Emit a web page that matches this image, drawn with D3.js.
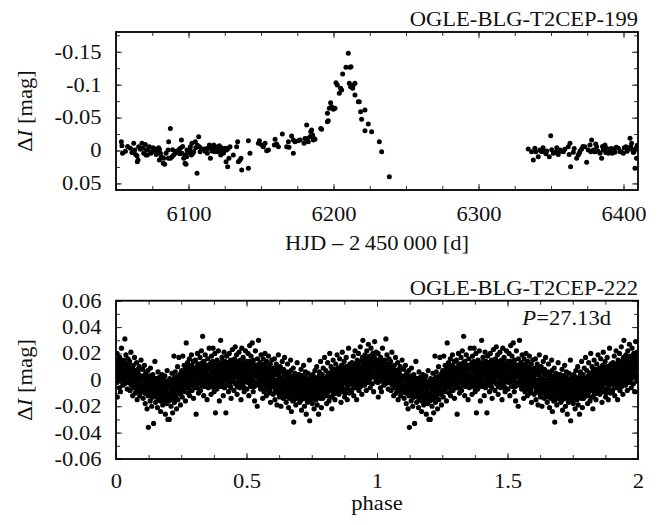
<!DOCTYPE html>
<html>
<head>
<meta charset="utf-8">
<script src="https://cdn.jsdelivr.net/npm/d3@7/dist/d3.min.js"></script>
<style>
  body { margin: 0; background: #fff; }
  text { font-family: "Liberation Serif", "Times New Roman", serif; fill: #111; }
</style>
</head>
<body>
<div id="graph"></div>
<script>
// OGLE-BLG-T2CEP-199 light curve: [HJD - 2450000, dI mag]
var lc199 = [
  [6053.7,-0.0134],[6054.1,-0.0073],[6054.5,0.0043],[6056.5,0.001],[6058,-0.006],[6059.9,-0.0033],
  [6061,0.003],[6062.2,-0.0109],[6062.9,-0.0007],[6063.5,0.006],[6064.5,0.0079],[6064.7,0.017],
  [6065.2,0.0145],[6065.6,-0.0058],[6066.8,-0.002],[6067.9,-0.0109],[6068.4,-0.0033],[6069.1,0.0043],
  [6070.2,-0.0093],[6070.7,0.0069],[6071,-0.001],[6071.6,0.0068],[6072.1,-0.0007],[6073,-0.0058],
  [6074,0.004],[6074.8,0.0018],[6075.5,-0.004],[6076,-0.0007],[6077.1,-0.0022],[6077.8,0.006],
  [6078.3,0.0018],[6079.4,-0.0043],[6079.9,0.0144],[6080,-0.002],[6080.6,0.0043],[6081.3,0.0094],
  [6082.6,0.0195],[6082.9,0.0119],[6083.6,0.021],[6084.5,0.004],[6085.9,-0.0007],[6086.1,0.0119],
  [6086.3,-0.0134],[6087.5,-0.0336],[6087.5,0.0119],[6088.6,0.0094],[6089,-0.001],[6089.8,0.0069],
  [6090.9,0.0043],[6091.5,0.001],[6092.1,0.0018],[6093.2,-0.0007],[6094,0.005],[6094.4,-0.0033],
  [6095.1,-0.0159],[6095.5,0.0043],[6096,-0.006],[6096.7,0.0119],[6097.6,0.0195],[6097.8,0.0069],
  [6098.3,0.021],[6098.7,0.0094],[6099,-0.0007],[6099.5,0.003],[6100.1,0.0018],[6101,-0.001],
  [6101.3,-0.0058],[6102,0.0069],[6102.4,-0.0109],[6103,0.004],[6103.6,0.0018],[6104.7,-0.0134],
  [6105,-0.004],[6105.9,0.0347],[6106.2,-0.008],[6107,-0.021],[6107.5,-0.0058],[6108,0.002],
  [6108.9,-0.0022],[6110.5,-0.0022],[6111.5,0.001],[6112.5,-0.003],[6113,0.004],[6113.9,-0.0033],
  [6114.4,-0.0083],[6115.1,0.0119],[6116.2,0.0008],[6116.8,-0.004],[6117.4,-0.0083],[6118,0.002],
  [6118.5,-0.0033],[6119,-0.005],[6119.7,0.0018],[6120.3,-0.0058],[6120.8,0.001],[6121.3,-0.0073],
  [6122.2,0.0069],[6122.8,-0.004],[6123.1,-0.0007],[6124,0.004],[6124.3,0.0018],[6125.4,-0.0033],
  [6125.9,0.017],[6126.3,-0.0007],[6127,0.0246],[6127.5,-0.0033],[6127.9,0.0119],[6128.6,-0.0058],
  [6130.9,0.0068],[6133.2,-0.0058],[6133.9,-0.0134],[6134.4,0.017],[6135.5,0.0144],[6136.2,0.0119],
  [6136.7,0.0296],[6141.3,0.0271],[6141.3,-0.0149],[6142.4,0.0043],[6148.2,-0.0109],[6148.9,-0.0149],
  [6150.5,-0.0083],[6151.6,-0.0058],[6152.8,-0.0109],[6153.9,0.0003],[6155.1,-0.0007],[6159.2,-0.0083],
  [6159.7,-0.017],[6160.8,-0.0099],[6162,-0.0058],[6164.7,-0.0251],[6167.7,-0.0058],[6168.9,-0.0134],
  [6169.3,-0.0048],[6171.1,-0.022],[6172.3,0.0043],[6172.3,-0.0159],[6173.4,-0.0134],[6175.7,-0.0149],
  [6176.9,-0.0159],[6179.7,-0.0109],[6180.3,-0.0184],[6181.5,-0.0387],[6182,-0.0184],[6182.6,-0.0134],
  [6183.8,-0.021],[6184.3,-0.0286],[6184.9,-0.0311],[6185.6,-0.0235],[6186.1,-0.0159],[6186.6,-0.0184],
  [6187.2,-0.0169],[6191.2,-0.0336],[6191.8,-0.0321],[6195.8,-0.0438],[6196.4,-0.0453],[6195.8,-0.0564],
  [6197.1,-0.064],[6198,-0.0726],[6198.7,-0.0665],[6199.9,-0.0625],[6201,-0.064],[6201.7,-0.103],
  [6202.6,-0.0995],[6204,-0.0868],[6204.9,-0.0944],[6205.6,-0.0919],[6206.3,-0.1162],[6208.6,-0.1263],
  [6210.2,-0.1476],[6211.4,-0.1263],[6212.1,-0.1273],[6210.9,-0.102],[6211.8,-0.0969],[6213.2,-0.0944],
  [6213.7,-0.0995],[6214.8,-0.102],[6214.8,-0.0843],[6217.1,-0.0741],[6217.8,-0.0741],[6218.7,-0.0589],
  [6219.4,-0.0473],[6221.7,-0.0615],[6221.7,-0.0301],[6224,-0.0402],[6226.3,-0.0286],[6231.6,-0.0134],
  [6233.2,0.0018],[6238.5,0.0398],
  [6334.3,-0.0022],[6336.6,0.0018],[6337.8,0.0145],[6338.9,-0.0033],[6339.5,0.002],[6341.2,0.0094],
  [6342.4,-0.0007],[6343.5,0.0018],[6344.5,-0.004],[6345.8,0.0018],[6346.5,0.005],[6347,0.0008],
  [6348.8,0.0094],[6349.8,-0.0225],[6350.5,-0.001],[6351.6,0.0043],[6352.5,0.003],[6353.4,0.0028],
  [6354,-0.004],[6355,0.0059],[6356.2,-0.0007],[6357,0.001],[6358.5,0.0018],[6359.5,-0.002],
  [6361.9,-0.0058],[6362.5,0.006],[6363.1,-0.0109],[6363.5,0.0246],[6365.4,0.0028],[6366,-0.003],
  [6367.7,0.0119],[6368.8,0.0069],[6369.5,0.004],[6370,0.0008],[6371.1,-0.0022],[6372,-0.006],
  [6373.4,-0.0058],[6374.6,0.018],[6375.7,-0.0007],[6376.9,-0.0083],[6377.5,0.002],[6378,-0.0159],
  [6379.2,-0.0007],[6380.3,0.0018],[6380.8,-0.01],[6381.5,-0.0058],[6382.5,0.001],[6383.8,0.0043],
  [6384.9,0.0119],[6385.5,-0.006],[6386.1,-0.0007],[6387.2,-0.0083],[6387.8,0.003],[6388.4,-0.0033],
  [6389.5,0.0043],[6390.7,0.0008],[6391.5,-0.003],[6392.2,0.004],[6393,-0.0022],[6394.1,0.0028],
  [6395,-0.005],[6396.4,-0.0033],[6397.6,0.0018],[6398.5,0.002],[6399.9,0.0043],[6400.5,-0.004],
  [6401.7,-0.0058],[6402.5,0.001],[6403.3,-0.0022],[6404.5,-0.0185],[6405,-0.006],[6405.6,-0.0109],
  [6406.3,-0.0007],[6406.8,0.003],[6407.2,0.0018],[6407.9,0.0271],[6408.6,-0.0033],[6409,0.0119],
  [6409.5,-0.008]
];

// OGLE-BLG-T2CEP-222 folded light curve: [phase x 1000, dI in mmag]
var lc222 = [
  [1,12],[3,-2],[4,20],[5,-13],[6,8],[8,15],[9,1],[11,10],[13,-6],[14,17],[16,5],[17,-9],[18,11],[19,-1],
  [21,24],[23,7],[24,14],[26,-4],[28,9],[29,2],[31,13],[33,-3],[34,31],[36,6],[38,19],[39,0],[41,10],
  [43,-7],[44,4],[46,16],[48,-2],[49,8],
  [51,3],[52,14],[54,-8],[56,6],[57,21],[59,-3],[61,9],[62,0],[64,-12],[66,11],[67,4],[69,-6],[71,17],
  [72,2],[74,-10],[76,7],[77,-2],[79,13],[81,-15],[82,1],[84,8],[86,-7],[87,-1],[89,10],[91,-12],[92,3],
  [94,-5],[96,15],[97,-9],[99,0],
  [101,-4],[102,8],[104,-14],[106,1],[107,-8],[109,11],[111,-3],[112,-18],[114,5],[116,-10],[117,-1],
  [119,-22],[121,-6],[122,7],[124,-36],[126,-12],[127,2],[129,-4],[131,-16],[132,9],[134,-9],[136,-1],
  [137,-20],[139,-6],[141,4],[142,-13],[144,-33],[146,-2],[147,-11],[149,14],
  [151,-7],[152,-17],[154,1],[156,-10],[157,-3],[159,-21],[161,6],[162,-12],[164,-5],[166,-15],[167,2],
  [169,-9],[171,-24],[172,-1],[174,-14],[176,4],[177,-7],[179,-19],[181,-11],[182,-2],[184,-16],[186,-8],
  [187,3],[189,-26],[191,-13],[192,-4],[194,-18],[196,7],[197,-10],[199,-30],
  [201,-6],[202,-16],[204,-30],[206,1],[207,-11],[209,-3],[211,-20],[212,-8],[214,5],[216,-14],[217,-25],
  [219,-1],[221,-9],[222,18],[224,-17],[226,-4],[227,6],[229,-12],[231,2],[232,-22],[234,-6],[236,10],
  [237,-15],[239,-2],[241,17],[242,-8],[244,3],[246,-11],[247,-19],[249,1],
  [251,-5],[252,7],[254,-13],[256,18],[257,0],[259,-8],[261,11],[262,-3],[264,4],[266,-16],[267,9],
  [269,28],[271,-6],[272,2],[274,13],[276,-10],[277,5],[279,-1],[281,16],[282,-12],[284,8],[286,-4],
  [287,1],[289,19],[291,-8],[292,10],[294,-2],[296,14],[297,-14],[299,3],
  [301,6],[302,-6],[304,15],[306,1],[307,-26],[309,9],[311,-3],[312,20],[314,4],[316,-10],[317,12],
  [319,-1],[321,7],[322,17],[324,-8],[326,3],[327,22],[329,-4],[331,10],[332,33],[334,0],[336,-12],
  [337,14],[339,5],[341,-5],[342,19],[344,8],[346,-2],[347,11],[349,-15],
  [351,4],[352,16],[354,-6],[356,9],[357,24],[359,-1],[361,12],[362,2],[364,-11],[366,18],[367,6],
  [369,-4],[371,14],[372,24],[374,0],[376,-9],[377,8],[379,20],[381,-25],[382,3],[384,11],[386,-7],
  [387,15],[389,5],[391,-3],[392,22],[394,9],[396,-16],[397,1],[399,13],
  [401,30],[402,-5],[404,8],[406,17],[407,-1],[409,11],[411,-12],[412,4],[414,21],[416,-6],[417,14],
  [419,2],[421,-25],[422,9],[424,18],[426,-3],[427,6],[429,13],[431,-9],[432,0],[434,20],[436,7],
  [437,-4],[439,15],[441,-14],[442,3],[444,10],[446,23],[447,-1],[449,12],
  [451,5],[452,-8],[454,16],[456,2],[457,25],[459,-3],[461,10],[462,19],[464,-11],[466,6],[467,13],
  [469,-2],[471,21],[472,8],[474,-6],[476,15],[477,1],[479,-15],[481,11],[482,24],[484,4],[486,-4],
  [487,17],[489,7],[491,-9],[492,13],[494,0],[496,22],[497,9],[499,-1],
  [501,14],[502,-7],[504,6],[506,20],[507,2],[509,-12],[511,10],[512,26],[514,-3],[516,8],[517,18],
  [519,-5],[521,12],[522,28],[524,1],[526,-9],[527,15],[529,5],[531,-16],[532,9],[534,22],[536,-2],
  [537,11],[539,3],[541,-20],[542,16],[544,7],[546,30],[547,-4],[549,10],
  [551,2],[552,13],[554,-7],[556,19],[557,5],[559,-3],[561,9],[562,-14],[564,16],[566,1],[567,-9],
  [569,11],[571,20],[572,-4],[574,6],[576,-12],[577,14],[579,0],[581,-6],[582,9],[584,18],[586,-10],
  [587,3],[589,-1],[591,12],[592,-17],[594,5],[596,-5],[597,15],[599,-2],
  [601,1],[602,-11],[604,9],[606,-4],[607,16],[609,-15],[611,4],[612,-7],[614,12],[616,-1],[617,-19],
  [619,7],[621,-5],[622,19],[624,-10],[626,2],[627,-13],[629,10],[631,-3],[632,-20],[634,6],[636,-8],
  [637,14],[639,-2],[641,-14],[642,8],[644,-6],[646,17],[647,-11],[649,0],
  [651,-4],[652,-17],[654,6],[656,-9],[657,12],[659,-2],[661,-21],[662,-7],[664,4],[666,-13],[667,-1],
  [669,15],[671,-10],[672,-24],[674,2],[676,-6],[677,-16],[679,9],[681,-32],[682,-3],[684,-12],[686,5],
  [687,-8],[689,-19],[691,1],[692,-5],[694,13],[696,-14],[697,-9],[699,0],
  [701,-7],[702,4],[704,-17],[706,-2],[707,-11],[709,8],[711,-23],[712,-6],[714,3],[716,-14],[717,-1],
  [719,11],[721,-9],[722,-20],[724,-4],[726,6],[727,-13],[729,-26],[731,0],[732,-8],[734,-17],[736,5],
  [737,-3],[739,-12],[741,15],[742,-31],[744,-6],[746,-15],[747,2],[749,-10],
  [751,-5],[752,-18],[754,4],[756,-9],[757,-1],[759,-22],[761,-12],[762,7],[764,-3],[766,-15],[767,-7],
  [769,10],[771,-19],[772,0],[774,-10],[776,-26],[777,-4],[779,6],[781,-13],[782,-1],[784,14],[786,-8],
  [787,-21],[789,2],[791,-6],[792,-14],[794,9],[796,-3],[797,-11],[799,17],
  [801,-2],[802,-12],[804,7],[806,-6],[807,-18],[809,1],[811,13],[812,-9],[814,-3],[816,-16],[817,5],
  [819,20],[821,-7],[822,-1],[824,10],[826,-13],[827,-22],[829,3],[831,-5],[832,15],[834,-10],[836,0],
  [837,8],[839,-15],[841,-4],[842,12],[844,2],[846,-8],[847,19],[849,-1],
  [851,-3],[852,9],[854,-11],[856,2],[857,16],[859,-6],[861,5],[862,-17],[864,11],[866,-2],[867,21],
  [869,-9],[871,4],[872,-1],[874,14],[876,-13],[877,7],[879,0],[881,-7],[882,17],[884,3],[886,-15],
  [887,10],[889,-4],[891,24],[892,1],[894,-10],[896,12],[897,-3],[899,6],
  [901,2],[902,-9],[904,13],[906,4],[907,-3],[909,18],[911,-12],[912,8],[914,0],[916,22],[917,-6],
  [919,11],[921,3],[922,-15],[924,15],[926,6],[927,-2],[929,20],[931,-8],[932,9],[934,1],[936,25],
  [937,-5],[939,14],[941,4],[942,-11],[944,17],[946,30],[947,7],[949,-1],
  [951,10],[952,-4],[954,19],[956,3],[957,12],[959,-8],[961,22],[962,6],[964,15],[966,-2],[967,27],
  [969,9],[971,0],[972,17],[974,-6],[976,12],[977,24],[979,4],[981,14],[982,-3],[984,20],[986,8],
  [987,-9],[989,16],[991,29],[992,3],[994,11],[996,-1],[997,21],[999,7]
];

// denser core of the same folded curve
var lc222core = [
  [0,11],[2,5],[3,14],[5,8],[7,2],[10,12],[11,7],[13,16],[15,3],[17,10],[20,6],[21,13],[23,0],[25,9],
  [27,4],[29,11],[30,15],[32,1],[35,7],[37,12],[40,3],[42,9],[44,-1],[45,6],[47,10],
  [50,7],[52,0],[53,10],[55,3],[58,-4],[60,6],[61,1],[63,9],[65,-2],[68,4],[70,-6],[71,7],[73,0],
  [75,-3],[78,5],[80,-8],[81,2],[83,-5],[85,6],[88,-1],[90,-9],[91,3],[93,-4],[95,1],[98,-7],
  [100,0],[103,-7],[105,3],[108,-4],[110,-10],[111,1],[113,-6],[115,-1],[118,-9],[120,2],[121,-5],
  [123,-12],[125,-2],[128,-8],[130,3],[131,-4],[133,-11],[135,-6],[138,0],[140,-13],[141,-3],[143,-9],
  [145,-5],[148,1],[149,-12],
  [150,-4],[153,-11],[155,-1],[158,-8],[160,-14],[161,-3],[163,-9],[165,0],[168,-12],[170,-6],[171,-16],
  [173,-2],[175,-10],[178,-5],[180,-13],[181,1],[183,-7],[185,-15],[188,-3],[190,-9],[191,-1],[193,-12],
  [195,-6],[198,-16],[199,-4],
  [200,-10],[203,-2],[205,-13],[208,-6],[210,-15],[211,0],[213,-9],[215,-4],[218,-12],[220,-1],[221,-7],
  [223,-14],[225,2],[228,-8],[230,-3],[231,-11],[233,1],[235,-6],[238,-10],[240,3],[241,-4],[243,-9],
  [245,-1],[248,5],[249,-6],
  [250,-1],[253,-7],[255,3],[258,-4],[260,6],[261,-9],[263,1],[265,-3],[268,8],[270,-5],[271,2],
  [273,-1],[275,10],[278,-6],[280,4],[281,-2],[283,7],[285,-8],[288,3],[290,11],[291,-3],[293,5],
  [295,0],[298,8],[299,-4],
  [300,4],[303,-3],[305,9],[308,1],[310,-6],[311,7],[313,12],[315,-1],[318,5],[320,-7],[321,3],
  [323,10],[325,-2],[328,6],[330,0],[331,13],[333,-4],[335,8],[338,2],[340,-5],[341,11],[343,4],
  [345,-1],[348,9],[349,1],
  [350,7],[353,-2],[355,11],[358,3],[360,-5],[361,9],[363,1],[365,13],[368,-3],[370,6],[371,0],
  [373,10],[375,-6],[378,4],[380,12],[381,-1],[383,8],[385,2],[388,-4],[390,11],[391,5],[393,-2],
  [395,7],[398,0],[399,10],
  [400,3],[403,10],[405,-3],[408,6],[410,13],[411,0],[413,8],[415,-5],[418,4],[420,11],[421,-1],
  [423,7],[425,2],[428,-4],[430,12],[431,5],[433,-2],[435,9],[438,1],[440,-6],[441,8],[443,3],
  [445,13],[448,-1],[449,6],
  [450,9],[453,1],[455,12],[458,-3],[460,6],[461,14],[463,2],[465,-5],[468,8],[470,4],[471,-1],
  [473,11],[475,6],[478,-4],[480,13],[481,3],[483,8],[485,-2],[488,10],[490,5],[491,-6],[493,12],
  [495,2],[498,7],[499,14],
  [500,4],[503,11],[505,-2],[508,8],[510,14],[511,1],[513,6],[515,-4],[518,12],[520,3],[521,9],
  [523,-1],[525,13],[528,5],[530,-5],[531,10],[533,2],[535,7],[538,-3],[540,11],[541,4],[543,-2],
  [545,8],[548,0],[549,12],
  [550,6],[553,-2],[555,10],[558,1],[560,-6],[561,8],[563,3],[565,12],[568,-4],[570,5],[571,-1],
  [573,9],[575,2],[578,-7],[580,7],[581,0],[583,-3],[585,10],[588,4],[590,-8],[591,2],[593,8],
  [595,-2],[598,5],[599,-5],
  [600,3],[603,-5],[605,7],[608,-1],[610,-9],[611,4],[613,-3],[615,9],[618,0],[620,-7],[621,5],
  [623,-2],[625,-11],[628,2],[630,-5],[631,8],[633,-8],[635,1],[638,-3],[640,6],[641,-10],[643,-1],
  [645,4],[648,-6],[649,-13],
  [650,0],[653,-8],[655,4],[658,-4],[660,-12],[661,1],[663,-6],[665,-14],[668,-2],[670,7],[671,-9],
  [673,-4],[675,2],[678,-11],[680,-6],[681,3],[683,-15],[685,-1],[688,-8],[690,-3],[691,-13],[693,4],
  [695,-6],[698,-10],[699,-1],
  [700,-3],[703,-12],[705,1],[708,-8],[710,-15],[711,-4],[713,3],[715,-10],[718,-6],[720,-1],[721,-13],
  [723,-7],[725,2],[728,-11],[730,-5],[731,-15],[733,0],[735,-9],[738,-4],[740,-14],[741,1],[743,-8],
  [745,-2],[748,-12],[749,-6],
  [750,-9],[753,-1],[755,-13],[758,-5],[760,2],[761,-10],[763,-4],[765,-15],[768,-7],[770,0],[771,-12],
  [773,-3],[775,-8],[778,3],[780,-11],[781,-5],[783,-14],[785,-1],[788,-7],[790,4],[791,-10],[793,-3],
  [795,-12],[798,0],[799,-6],
  [800,-8],[803,1],[805,-5],[808,-12],[810,3],[811,-3],[813,-9],[815,5],[818,-1],[820,-6],[821,-13],
  [823,2],[825,-4],[828,7],[830,-8],[831,0],[833,-11],[835,4],[838,-2],[840,-7],[841,6],[843,-1],
  [845,-10],[848,3],[849,-4],
  [850,2],[853,-6],[855,6],[858,-2],[860,-9],[861,4],[863,9],[865,-4],[868,1],[870,-7],[871,7],
  [873,-1],[875,3],[878,-10],[880,10],[881,-3],[883,5],[885,-6],[888,2],[890,8],[891,-4],[893,0],
  [895,6],[898,-8],[899,3],
  [900,5],[903,-2],[905,9],[908,0],[910,-6],[911,6],[913,12],[915,-3],[918,4],[920,10],[921,-1],
  [923,7],[925,1],[928,13],[930,-4],[931,5],[933,10],[935,-1],[938,8],[940,3],[941,14],[943,-2],
  [945,6],[948,11],[949,1],
  [950,7],[953,14],[955,0],[958,10],[960,4],[961,16],[963,8],[965,1],[968,13],[970,6],[971,18],
  [973,3],[975,11],[978,7],[980,16],[981,2],[983,12],[985,9],[988,4],[990,17],[991,8],[993,13],
  [995,2],[998,11],[999,15]
];

var xTicks199 = [6100, 6200, 6300, 6400];
var yTicks199 = [-0.15, -0.1, -0.05, 0, 0.05];
var xTicks222 = [0, 0.5, 1, 1.5, 2];
var yTicks222 = [-0.06, -0.04, -0.02, 0, 0.02, 0.04, 0.06];

var W = 662, H = 525;
var left = 116, right = 638;
var stretch = "scale(1.13,1)";   // the reference type is a bit wide

var svg = d3.select("#graph")
    .append("svg")
    .attr("width", W)
    .attr("height", H);

svg.append("rect").attr("width", W).attr("height", H).attr("fill", "#fff");

var label = function(g, x, y, anchor, parts, rotate) {
    var t = g.append("text")
        .attr("transform", "translate(" + x + "," + y + ")" + (rotate ? " rotate(-90)" : "") + " " + stretch)
        .attr("text-anchor", anchor)
        .attr("font-size", 20);
    parts.forEach(p => {
        t.append("tspan").attr("font-style", p[1] ? "italic" : null).text(p[0]);
    });
    return t;
};

// draws the frame, ticks (mirrored, pointing inward) and labels for one panel
var drawPanel = function(o) {
    var g = svg.append("g");
    var x = o.x, y = o.y;
    var top = y.range()[1], bottom = y.range()[0];

    g.append("clipPath").attr("id", o.id)
        .append("rect")
        .attr("x", left).attr("y", top)
        .attr("width", right - left).attr("height", bottom - top);

    var addAxis = function(axis, tx, ty, vals, size, labels, pad) {
        var a = g.append("g")
            .attr("transform", "translate(" + tx + "," + ty + ")")
            .call(axis.tickValues(vals).tickSize(-size).tickPadding(pad || 0)
                .tickFormat(labels ? (d => String(d)) : ""));
        a.select(".domain").remove();
        a.selectAll("line").attr("stroke", "#333").attr("stroke-width", 1);
        a.selectAll("text")
            .attr("font-size", 20)
            .attr("font-family", "Liberation Serif, serif")
            .attr("fill", "#111")
            .attr("transform", stretch);
        return a;
    };

    addAxis(d3.axisBottom(x), 0, bottom, o.xMinor, 4);
    addAxis(d3.axisTop(x), 0, top, o.xMinor, 4);
    addAxis(d3.axisLeft(y), left, 0, o.yMinor, 4);
    addAxis(d3.axisRight(y), right, 0, o.yMinor, 4);
    addAxis(d3.axisBottom(x), 0, bottom, o.xTicks, 6, true, o.xPad);
    addAxis(d3.axisTop(x), 0, top, o.xTicks, 6);
    addAxis(d3.axisLeft(y), left, 0, o.yTicks, 6, true, 12.7);
    addAxis(d3.axisRight(y), right, 0, o.yTicks, 6);

    g.append("g")
        .attr("clip-path", "url(#" + o.id + ")")
        .selectAll("circle")
        .data(o.points)
        .enter()
        .append("circle")
        .attr("cx", d => x(d[0]))
        .attr("cy", d => y(d[1]))
        .attr("r", o.r)
        .attr("fill", "#000");

    g.append("rect")
        .attr("x", left).attr("y", top)
        .attr("width", right - left).attr("height", bottom - top)
        .attr("fill", "none").attr("stroke", "#000").attr("stroke-width", 1.8);

    label(g, right, top - 6, "end", [[o.title]]);
    label(g, 32, (top + bottom) / 2, "middle", [["\u0394"], ["I", true], [" [mag]"]], true);
    label(g, (left + right) / 2, o.xLabelY, "middle", [[o.xLabel]]);
    return g;
};

var x199 = d3.scaleLinear().domain([6050, 6410]).range([left, right]);
var y199 = d3.scaleLinear().domain([0.06, -0.18]).range([190, 32]);

drawPanel({
    id: "clip199", x: x199, y: y199,
    points: lc199, r: 2.5,
    xTicks: xTicks199, yTicks: yTicks199,
    xMinor: d3.range(6050, 6411, 25),
    yMinor: d3.range(-0.175, 0.06, 0.025),
    xPad: 17,
    title: "OGLE-BLG-T2CEP-199",
    xLabel: "HJD \u2013 2\u2009450\u2009000 [d]",
    xLabelY: 250
});

var x222 = d3.scaleLinear().domain([0, 2]).range([left, right]);
var y222 = d3.scaleLinear().domain([-0.06, 0.06]).range([459, 300.7]);

// each folded point is shown at phase and phase + 1
var folded = [];
lc222.concat(lc222core).forEach(d => {
    folded.push([d[0] / 1000, d[1] / 1000]);
    folded.push([d[0] / 1000 + 1, d[1] / 1000]);
});

var g222 = drawPanel({
    id: "clip222", x: x222, y: y222,
    points: folded, r: 2.6,
    xTicks: xTicks222, yTicks: yTicks222,
    xMinor: d3.range(0, 2.001, 0.125),
    yMinor: d3.range(-0.06, 0.0601, 0.01),
    xPad: 15,
    title: "OGLE-BLG-T2CEP-222",
    xLabel: "phase",
    xLabelY: 510
});

label(g222, 611, 325, "end", [["P", true], ["=27.13d"]]);
</script>
</body>
</html>
